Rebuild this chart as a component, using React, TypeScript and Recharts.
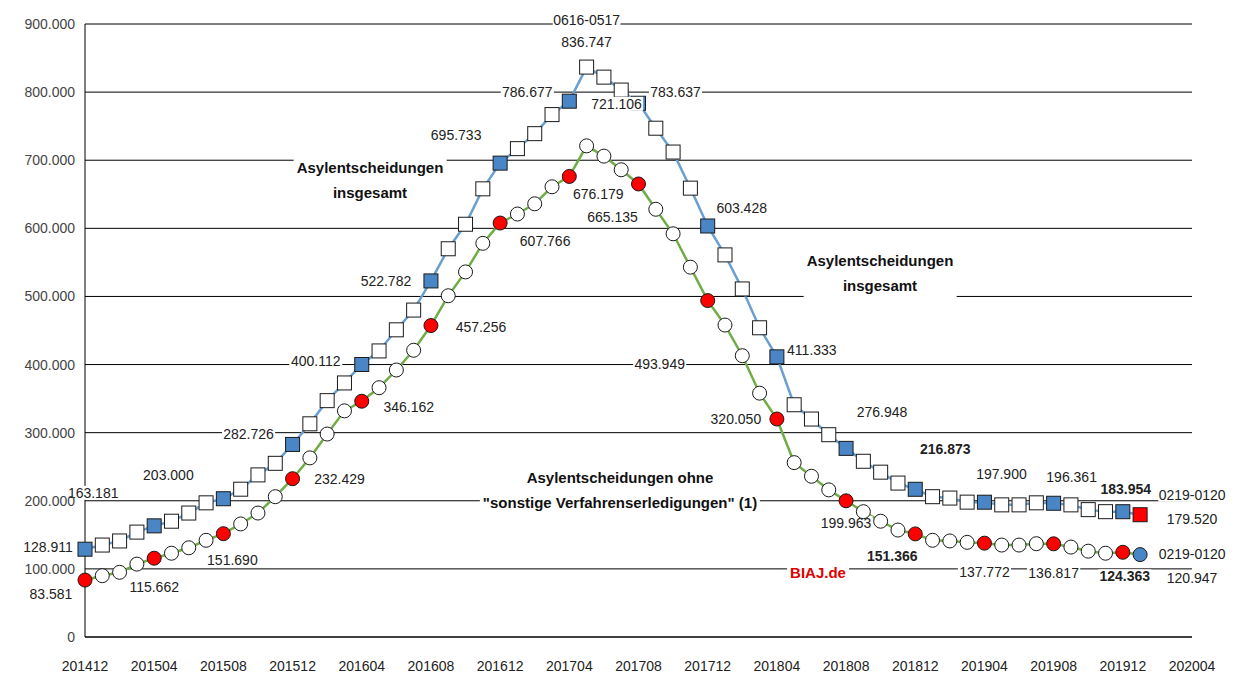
import { CartesianGrid, Line, LineChart, XAxis, YAxis } from "recharts";

const insgesamt = [
  128911, 135000, 141000, 154000, 163181, 170000, 182000, 197000, 203000, 217000, 238000, 255000,
  282726, 313000, 347000, 373000, 400112, 420000, 451000, 480000, 522782, 570000, 606000, 658000,
  695733, 717000, 739000, 767000, 786677, 836747, 822000, 803000, 783637, 747000, 712000, 659000,
  603428, 561000, 511000, 454000, 411333, 341000, 320000, 297000, 276948, 258000, 242000, 226000,
  216873, 206000, 204000, 198000, 197900, 194000, 194000, 197000, 196361, 194000, 187000, 184000,
  183954, 179520,
];
const ohneSonstige = [
  83581, 90000, 95000, 107000, 115662, 123000, 131000, 142000, 151690, 166000, 182000, 206000,
  232429, 263000, 298000, 332000, 346162, 366000, 392000, 421000, 457256, 501000, 536000, 578000,
  607766, 621000, 636000, 661000, 676179, 721106, 706000, 686000, 665135, 628000, 592000, 543000,
  493949, 458000, 413000, 358000, 320050, 256000, 236000, 216000, 199963, 184000, 170000, 157000,
  151366, 142000, 141000, 139000, 137772, 135000, 135000, 137000, 136817, 132000, 126000, 123000,
  124363, 120947,
];
const xTicks = [0, 4, 8, 12, 16, 20, 24, 28, 32, 36, 40, 44, 48, 52, 56, 60, 64];
const yTicks = [0, 100000, 200000, 300000, 400000, 500000, 600000, 700000, 800000, 900000];

// label offsets [dx, dy, bold]
const squareLabels: Record<number, [number, number, boolean?]> = {
  0: [-37, -2], 4: [-61, -33], 8: [-55, -24], 12: [-44, -10], 16: [-46, -3], 20: [-45, 0],
  24: [-44, -28], 28: [-42, -9], 29: [0, -25], 32: [37, -11], 36: [34, -18], 40: [35, -7],
  44: [36, -36], 48: [30, -40, true], 52: [17, -28], 56: [18, -26], 60: [3, -23, true], 61: [52, 4],
};
const circleLabels: Record<number, [number, number, boolean?]> = {
  0: [-34, 14], 4: [0, 29], 8: [9, 26], 12: [47, 0], 16: [47, 6], 20: [50, 1], 24: [45, 18],
  28: [29, 18], 29: [30, -42], 32: [-26, 33], 36: [-48, 63], 40: [-41, 0], 44: [0, 22],
  48: [-23, 22, true], 52: [0, 29], 56: [0, 29], 60: [2, 24, true], 61: [52, 23],
};

const data = insgesamt.map((v, i) => ({ m: i, a: v, b: ohneSonstige[i] }));

const monthLabel = (i: number) => {
  const t = 2014 * 12 + 11 + i;
  const y = Math.floor(t / 12);
  const mo = (t % 12) + 1;
  return `${y}${mo < 10 ? "0" : ""}${mo}`;
};
const fmt = (v: number) => (v === 0 ? "0" : (v / 1000).toFixed(3));

const FONT = "Liberation Sans, Arial, sans-serif";

const Lbl = ({ x, y, text, bold }: { x: number; y: number; text: string; bold?: boolean }) => {
  const w = text.length * 7.3 + 2;
  return (
    <g>
      <rect x={x - w / 2} y={y - 7} width={w} height={14} fill="#fff" />
      <text x={x} y={y + 5} textAnchor="middle" fontSize={14} fontFamily={FONT} fontWeight={bold ? 700 : 400} fill="#222">
        {text}
      </text>
    </g>
  );
};

const makeDot = (kind: "sq" | "ci") => (props: any) => {
  const { cx, cy, index, value } = props;
  const labels = kind === "sq" ? squareLabels : circleLabels;
  const last = index === insgesamt.length - 1;
  const hi = index % 4 === 0 && !last;
  let fill = "#fff";
  if (kind === "sq") fill = last ? "#ff0000" : hi ? "#4a86c5" : "#fff";
  else fill = last ? "#4a86c5" : hi ? "#ff0000" : "#fff";
  const lab = labels[index];
  return (
    <g key={`${kind}${index}`}>
      {kind === "sq" ? (
        <rect x={cx - 7} y={cy - 7} width={14} height={14} fill={fill} stroke="#1a1a1a" strokeWidth={1} />
      ) : (
        <circle cx={cx} cy={cy} r={7} fill={fill} stroke="#1a1a1a" strokeWidth={1} />
      )}
      {lab && <Lbl x={cx + lab[0]} y={cy + lab[1]} text={fmt(value)} bold={lab[2]} />}
      {lab && last && <Lbl x={cx + lab[0]} y={cy + lab[1] - 24} text="0219-0120" />}
      {kind === "sq" && index === 29 && <Lbl x={cx} y={cy - 47} text="0616-0517" />}
    </g>
  );
};

const note = (left: number, top: number, lines: string[], color = "#111") => (
  <div
    style={{
      position: "absolute", left, top, transform: "translateX(-50%)", background: "#fff",
      fontFamily: FONT, fontWeight: 700, fontSize: 15, lineHeight: "25px", textAlign: "center",
      color, whiteSpace: "nowrap", padding: "0 3px",
    }}
  >
    {lines.map((l) => (
      <div key={l}>{l}</div>
    ))}
  </div>
);

export default function App() {
  return (
    <div style={{ position: "relative", width: 1220, height: 670 }}>
      <LineChart width={1220} height={670} data={data} margin={{ top: 16, right: 36, bottom: 11, left: 0 }}>
        <CartesianGrid vertical={false} stroke="#000" strokeWidth={1} />
        <XAxis
          dataKey="m" type="number" domain={[0, 64]} ticks={xTicks} tickFormatter={monthLabel}
          stroke="#000" tickLine={false} height={30} tick={{ fontSize: 14, fill: "#222", fontFamily: FONT, dy: 16 }}
        />
        <YAxis
          domain={[0, 900000]} ticks={yTicks} tickFormatter={fmt} width={77} stroke="#000" tickLine={false}
          tick={{ fontSize: 14, fill: "#444", fontFamily: FONT, dx: -2 }}
        />
        <Line dataKey="a" stroke="#6a9fd0" strokeWidth={2.5} dot={makeDot("sq")} isAnimationActive={false} />
        <Line dataKey="b" stroke="#70ad47" strokeWidth={2.5} dot={makeDot("ci")} isAnimationActive={false} />
      </LineChart>
      {note(362, 147, ["Asylentscheidungen", "insgesamt"])}
      {note(872, 240, ["Asylentscheidungen", "insgesamt"])}
      {note(612, 457, ["Asylentscheidungen ohne", "\"sonstige Verfahrenserledigungen\" (1)"])}
      {note(810, 552, ["BIAJ.de"], "#e00000")}
    </div>
  );
}
